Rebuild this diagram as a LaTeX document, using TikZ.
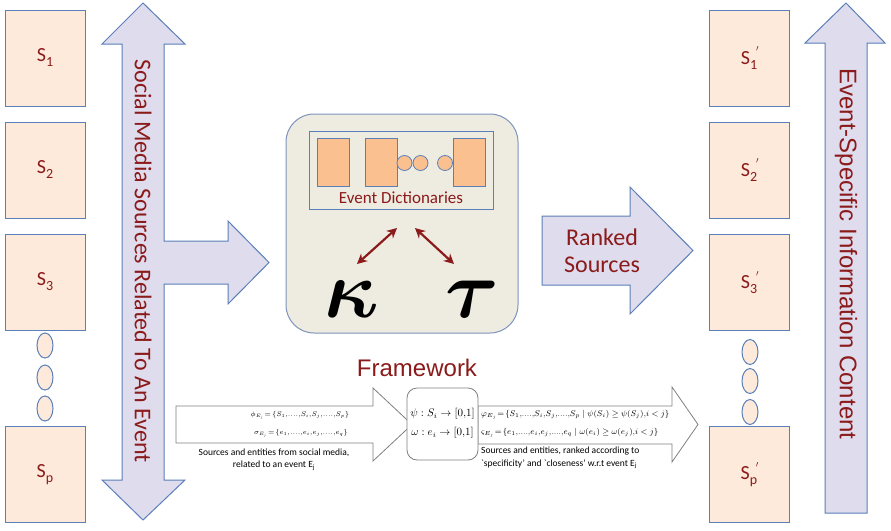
\RequirePackage{fix-cm}
\documentclass[tikz,border=0pt]{standalone}
\usepackage{amsmath}
\usepackage{fontspec}
\setmainfont{Carlito}
\newfontfamily\arialf{Liberation Sans}
\usetikzlibrary{arrows.meta,shapes.geometric}
\definecolor{txtred}{HTML}{8B1A1A}
\definecolor{peach}{HTML}{FDEADA}
\definecolor{boxblue}{HTML}{5B7FB8}
\definecolor{lav}{HTML}{DEDCED}
\definecolor{fwfill}{HTML}{EEECE1}
\definecolor{fwline}{HTML}{7F93BD}
\definecolor{orng}{HTML}{FAC090}
\definecolor{grayln}{HTML}{808080}
\newcommand{\Ssub}[1]{S\raisebox{-0.25em}{\fontsize{14}{14}\selectfont #1}}
\newcommand{\Sprm}[1]{S\rlap{\raisebox{-0.25em}{\fontsize{14}{14}\selectfont #1}}\rlap{\raisebox{0.62em}{\fontsize{9}{9}\selectfont\hspace{6pt}$\prime$}}\phantom{\fontsize{14}{14}\selectfont #1}}
\newcommand{\cm}{{,}}
\tikzset{
  sbox/.style={draw=boxblue, fill=peach, line width=1pt, minimum width=80pt, minimum height=96pt, inner sep=0pt, font=\fontsize{20}{24}\selectfont, text=txtred},
  dotell/.style={draw=boxblue, fill=peach, line width=1pt, ellipse, minimum width=16pt, minimum height=25pt, inner sep=0pt},
  bigarrow/.style={draw=boxblue, fill=lav, line width=1pt},
  whitearrow/.style={draw=grayln, fill=white, line width=0.8pt},
  dictrect/.style={draw=boxblue, fill=orng, line width=0.8pt, minimum width=32pt, minimum height=48pt, inner sep=0pt},
  dictcirc/.style={draw=boxblue, fill=orng, line width=0.8pt, circle, minimum size=15pt, inner sep=0pt},
  redarrow/.style={draw=txtred, line width=2.2pt, {Stealth[length=10pt,width=10pt]}-{Stealth[length=10pt,width=10pt]}},
  smalltxt/.style={font=\fontsize{9.5}{12.5}\selectfont, inner sep=0pt},
  mathtxt/.style={font=\fontsize{6.8}{8}\selectfont, inner sep=0pt},
  rmathtxt/.style={font=\fontsize{8.3}{10}\selectfont, inner sep=0pt},
  greek/.style={font=\fontsize{82}{84}\selectfont, inner sep=0pt},
}
\begin{document}
\begin{tikzpicture}[x=1pt,y=-1pt]
\useasboundingbox (0,0) rectangle (891,530);
\fill[white] (0,0) rectangle (891,530);

% left sources
\node[sbox] (s1) at (45,58) {\Ssub{1}};
\node[sbox] (s2) at (45,170) {\Ssub{2}};
\node[sbox] (s3) at (45,282) {\Ssub{3}};
\node[dotell] (l1) at (45,345.5) {};
\node[dotell] (l2) at (45,377.5) {};
\node[dotell] (l3) at (45,408.5) {};
\node[sbox] (sp) at (45,474.5) {\Ssub{p}};

% left L-shaped double arrow
\draw[bigarrow] (143,3) -- (185,44) -- (164,44) -- (164,241) -- (228,241) -- (228,221)
  -- (269,262.5) -- (228,304) -- (228,284) -- (164,284) -- (164,480) -- (185,480)
  -- (143,520) -- (102,480) -- (122,480) -- (122,44) -- (102,44) -- cycle;
\node[rotate=-90, text=txtred, font=\fontsize{24}{28}\selectfont] (ltxt) at (143,261)
  {Social Media Sources Related To An Event};

% framework
\node[draw=fwline, fill=fwfill, line width=1pt, rounded corners=28pt, minimum width=232pt, minimum height=219pt] (fw) at (402,223.5) {};
\node[draw=boxblue, line width=0.8pt, minimum width=184pt, minimum height=78pt] (ed) at (401,170) {};
\node[dictrect] (d1) at (333,162) {};
\node[dictrect] (d2) at (381,162) {};
\node[dictcirc] (c1) at (404.5,163) {};
\node[dictcirc] (c2) at (420.5,163) {};
\node[dictcirc] (c3) at (445,163) {};
\node[dictrect] (d3) at (469,162) {};
\node[text=txtred, font=\fontsize{17}{20}\selectfont, inner sep=0pt] (edl) at (401,198) {Event Dictionaries};
\node[greek] (kap) at (352,299) {$\boldsymbol{\kappa}$};
\node[greek] (tau) at (472,299) {$\boldsymbol{\tau}$};
\coordinate (ka) at (397,228);
\coordinate (kb) at (357,264);
\coordinate (ta) at (415,228);
\coordinate (tb) at (454,264);
\draw[redarrow] (ka) -- (kb);
\draw[redarrow] (ta) -- (tb);
\node[text=txtred, font=\arialf\fontsize{24}{28}\selectfont, inner sep=0pt] (fwl) at (417,368) {Framework};

% ranked sources arrow
\draw[bigarrow] (542,216) -- (630,216) -- (630,187) -- (693,250.5) -- (630,314) -- (630,285) -- (542,285) -- cycle;
\node[text=txtred, font=\fontsize{24}{27}\selectfont, align=center, inner sep=0pt] (rs) at (602,251) {Ranked\\Sources};

% right sources
\node[sbox] (r1) at (749,58) {\Sprm{1}};
\node[sbox] (r2) at (749,170) {\Sprm{2}};
\node[sbox] (r3) at (749,282.5) {\Sprm{3}};
\node[dotell] (e1) at (750,352) {};
\node[dotell] (e2) at (750,381) {};
\node[dotell] (e3) at (750,412) {};
\node[sbox] (rp) at (749,474.5) {\Sprm{p}};

% right up arrow
\draw[bigarrow] (846,3) -- (885,43) -- (867,43) -- (867,513) -- (825,513) -- (825,43) -- (805,43) -- cycle;
\node[rotate=-90, text=txtred, font=\arialf\fontsize{24}{28}\selectfont] (rtxt) at (846,254)
  {Event-Specific Information Content};

% bottom pipeline
\draw[whitearrow] (176,406) -- (373,406) -- (373,388) -- (412,424.5) -- (373,461) -- (373,443) -- (176,443) -- cycle;
\draw[whitearrow] (478,406) -- (672,406) -- (672,387) -- (698,424.5) -- (672,462) -- (672,444) -- (478,444) -- cycle;
\node[draw=grayln, fill=white, line width=0.8pt, rounded corners=10pt, minimum width=71pt, minimum height=72pt] (fn) at (442.5,424) {};
\node[font=\fontsize{11}{13}\selectfont, inner sep=0pt] (psi) at (442.5,414) {$\psi : S_i \rightarrow [0\cm1]$};
\node[font=\fontsize{11}{13}\selectfont, inner sep=0pt] (omg) at (442.5,433) {$\omega : e_i \rightarrow [0\cm1]$};

\node[mathtxt] (phi) at (300,415) {$\phi_{E_j}\!=\!\{S_1\cm....\cm S_i\cm S_j\cm....\cm S_p\}$};
\node[mathtxt] (sig) at (301,433) {$\sigma_{E_j}\!=\!\{e_1\cm....\cm e_i\cm e_j\cm....\cm e_q\}$};
\node[smalltxt, align=center] (src) at (274,459.5) {Sources and entities from social media,\\related to an event E\textsubscript{j}};

\node[rmathtxt, anchor=west] (vphi) at (481,415) {$\varphi_{E_j}\!=\!\{S_1\cm....\cm S_i\cm S_j\cm....\cm S_p \mid \psi(S_i) \geq \psi(S_j)\cm i<j\}$};
\node[rmathtxt, anchor=west] (vsig) at (481,433) {$\varsigma_{E_j}\!=\!\{e_1\cm....\cm e_i\cm e_j\cm....\cm e_q \mid \omega(e_i) \geq \omega(e_j)\cm i<j\}$};
\node[smalltxt, align=left, anchor=west] (rnk) at (481,458) {Sources and entities, ranked according to\\\textasciigrave specificity' and \textasciigrave closeness' w.r.t event E\textsubscript{j}};
\end{tikzpicture}
\end{document}
